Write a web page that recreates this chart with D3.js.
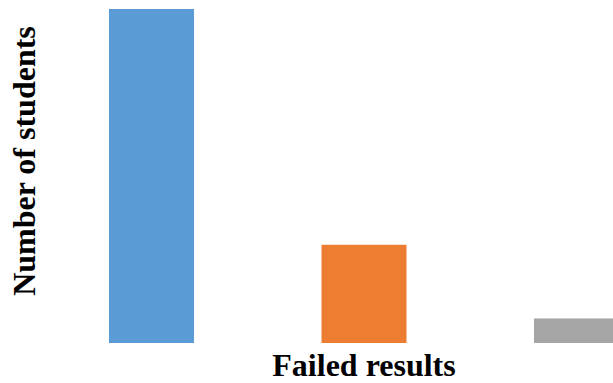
<!DOCTYPE html>
<html>
<head>
<meta charset="utf-8">
<script src="https://cdn.jsdelivr.net/npm/d3@7"></script>
<style>
  body { margin: 0; background: #fff; }
  svg { display: block; }
</style>
</head>
<body>
<svg width="613" height="383"></svg>
<script>
// failed results categories and student counts
const categories = ['Group A', 'Group B', 'Group C'];
const students = [68, 20, 5];
const colors = ['#5b9bd5', '#ed7d31', '#a5a5a5'];

const svg = d3.select('svg');
const width = +svg.attr('width');
const height = +svg.attr('height');

const baseline = 343;
const plotTop = 9;

const data = categories.map((c, i) => ({ cat: c, value: students[i], color: colors[i] }));

const xScale = d3.scaleBand()
    .domain(categories)
    .range([45.25, 682.75])
    .paddingInner(0.6)
    .paddingOuter(0.3);

const yScale = d3.scaleLinear()
    .domain([0, d3.max(students)])
    .range([baseline, plotTop]);

svg.selectAll('rect').data(data)
  .enter().append('rect')
    .attr('x', d => xScale(d.cat))
    .attr('y', d => yScale(d.value))
    .attr('width', xScale.bandwidth())
    .attr('height', d => baseline - yScale(d.value))
    .attr('fill', d => d.color);

// axis titles
svg.append('text')
    .attr('transform', `translate(35, 161) rotate(-90)`)
    .attr('text-anchor', 'middle')
    .attr('font-family', '"Liberation Serif", "Times New Roman", serif')
    .attr('font-weight', 'bold')
    .attr('font-size', '32px')
    .attr('fill', '#000')
    .text('Number of students');

svg.append('text')
    .attr('x', 364)
    .attr('y', 376)
    .attr('text-anchor', 'middle')
    .attr('font-family', '"Liberation Serif", "Times New Roman", serif')
    .attr('font-weight', 'bold')
    .attr('font-size', '32px')
    .attr('fill', '#000')
    .text('Failed results');
</script>
</body>
</html>
